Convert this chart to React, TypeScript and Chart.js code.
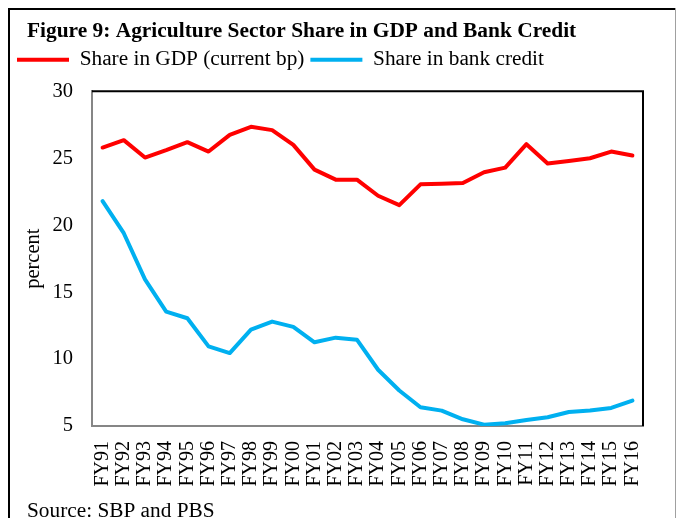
import React, { useEffect, useRef } from 'react';
import { Chart, registerables } from 'chart.js';

Chart.register(...registerables);

const categories = ['FY91', 'FY92', 'FY93', 'FY94', 'FY95', 'FY96', 'FY97', 'FY98', 'FY99', 'FY00', 'FY01', 'FY02', 'FY03', 'FY04', 'FY05', 'FY06', 'FY07', 'FY08', 'FY09', 'FY10', 'FY11', 'FY12', 'FY13', 'FY14', 'FY15', 'FY16'];
const gdpShare = [25.8, 26.35, 25.05, 25.6, 26.2, 25.5, 26.75, 27.35, 27.1, 26.0, 24.15, 23.4, 23.4, 22.2, 21.5, 23.05, 23.1, 23.15, 23.95, 24.3, 26.05, 24.6, 24.8, 25.0, 25.5, 25.2];
const bankCreditShare = [21.8, 19.4, 15.95, 13.55, 13.05, 10.95, 10.45, 12.2, 12.8, 12.4, 11.25, 11.6, 11.45, 9.2, 7.65, 6.4, 6.15, 5.5, 5.1, 5.2, 5.45, 5.65, 6.05, 6.15, 6.35, 6.9];
const seriesLabels = ['Share in GDP (current bp)', 'Share in bank credit'];
const seriesColors = ['#FF0000', '#00B0F0'];
const yMin = 5;
const yMax = 30;
const yStep = 5;
const titleText = 'Figure 9: Agriculture Sector Share in GDP and Bank Credit';
const sourceText = 'Source: SBP and PBS';
const yAxisTitle = 'percent';

const SERIF = '"Liberation Serif", "Times New Roman", serif';

const decorPlugin = {
  id: 'decor',
  afterDatasetsDraw(chart: any) {
    const { ctx, chartArea } = chart;
    ctx.save();
    ctx.strokeStyle = '#000000';
    ctx.lineWidth = 2;
    ctx.beginPath();
    ctx.moveTo(chartArea.left, chartArea.top);
    ctx.lineTo(chartArea.right, chartArea.top);
    ctx.lineTo(chartArea.right, chartArea.bottom);
    ctx.stroke();
    ctx.restore();
  },
  afterDraw(chart: any) {
    const { ctx } = chart;
    ctx.save();
    ctx.fillStyle = '#000000';
    ctx.fillRect(8, 8, 2, 510);
    ctx.fillRect(8, 8, 668, 2);
    ctx.fillStyle = '#a0a0a0';
    ctx.fillRect(675, 8, 1, 510);
    ctx.fillStyle = '#000000';
    ctx.textAlign = 'left';
    ctx.textBaseline = 'alphabetic';
    ctx.font = 'bold 21.4px ' + SERIF;
    ctx.fillText(titleText, 27, 37);
    ctx.font = '21.3px ' + SERIF;
    ctx.fillText(sourceText, 27, 517);
    ctx.restore();
  },
};

export default function App() {
  const ref = useRef<HTMLCanvasElement | null>(null);

  useEffect(() => {
    if (!ref.current) return;
    const chart = new Chart(ref.current, {
      type: 'line',
      data: {
        labels: categories,
        datasets: [
          {
            label: seriesLabels[0],
            data: gdpShare,
            borderColor: seriesColors[0],
            backgroundColor: seriesColors[0],
            borderWidth: 4,
            pointRadius: 0,
            tension: 0,
            borderJoinStyle: 'round',
            borderCapStyle: 'round',
            xAxisID: 'x',
            yAxisID: 'y',
          },
          {
            label: seriesLabels[1],
            data: bankCreditShare,
            borderColor: seriesColors[1],
            backgroundColor: seriesColors[1],
            borderWidth: 4,
            pointRadius: 0,
            tension: 0,
            borderJoinStyle: 'round',
            borderCapStyle: 'round',
            xAxisID: 'x',
            yAxisID: 'y',
          },
        ],
      },
      options: {
        responsive: false,
        animation: false,
        devicePixelRatio: 1,
        layout: { padding: { left: 11, right: 33, top: 43, bottom: 0 } },
        plugins: {
          legend: {
            display: true,
            position: 'top',
            align: 'start',
            labels: {
              boxWidth: 52,
              boxHeight: 4,
              padding: 6,
              color: '#000000',
              font: { family: SERIF, size: 21.3 },
              generateLabels: (c: any) =>
                c.data.datasets.map((ds: any, i: number) => ({
                  text: ds.label,
                  fillStyle: ds.borderColor,
                  strokeStyle: ds.borderColor,
                  lineWidth: 0,
                  hidden: false,
                  datasetIndex: i,
                  fontColor: '#000000',
                })),
            },
          },
          title: { display: false },
          tooltip: { enabled: false },
        },
        scales: {
          x: {
            type: 'category',
            position: 'bottom',
            offset: true,
            grid: { display: false, drawTicks: false, tickLength: 0 },
            border: { display: true, color: '#868686', width: 2 },
            ticks: {
              autoSkip: false,
              maxRotation: 90,
              minRotation: 90,
              padding: 15,
              color: '#000000',
              font: { family: SERIF, size: 20 },
            },
            afterFit: (s: any) => {
              s.height = 92;
            },
          },
          xTop: {
            type: 'category',
            position: 'top',
            display: true,
            grid: { display: false, drawTicks: false, tickLength: 0 },
            border: { display: false },
            ticks: { display: false },
            afterFit: (s: any) => {
              s.height = 11;
            },
          },
          y: {
            type: 'linear',
            position: 'left',
            min: yMin,
            max: yMax,
            grid: { display: false, drawTicks: false, tickLength: 0 },
            border: { display: true, color: '#868686', width: 2 },
            ticks: {
              stepSize: yStep,
              padding: 19,
              color: '#000000',
              font: { family: SERIF, size: 20.5 },
            },
            title: {
              display: true,
              text: yAxisTitle,
              color: '#000000',
              padding: { top: 10, bottom: 0 },
              font: { family: SERIF, size: 20.5 },
            },
            afterFit: (s: any) => {
              s.width = 81;
            },
          },
        },
      },
      plugins: [decorPlugin],
    } as any);
    return () => chart.destroy();
  }, []);

  return (
    <div style={{ position: 'absolute', left: 0, top: 0, width: 676, height: 518, background: '#ffffff' }}>
      <canvas ref={ref} width={676} height={518} style={{ display: 'block', width: 676, height: 518 }} />
    </div>
  );
}
